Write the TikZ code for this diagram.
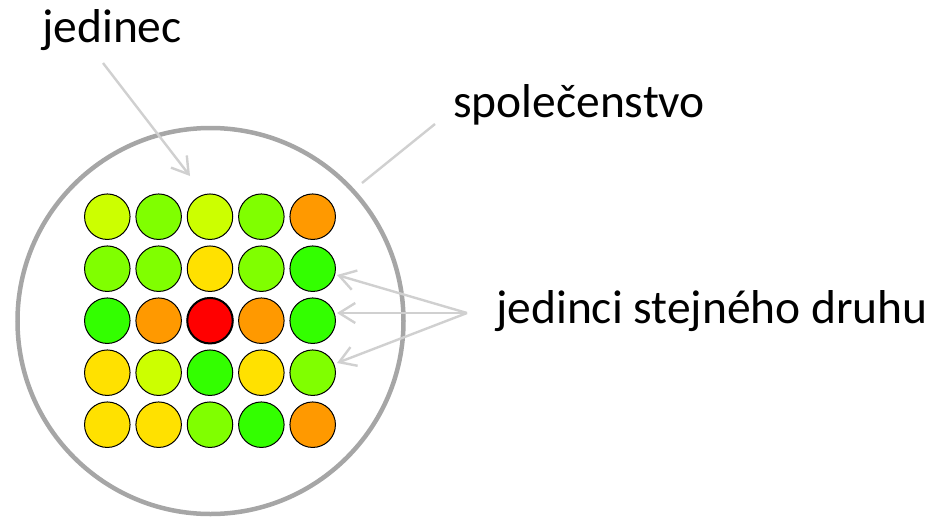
\documentclass[tikz,border=0pt]{standalone}
\usepackage{fontspec}
\setmainfont{Carlito}
\usetikzlibrary{arrows.meta}
\definecolor{cYG}{HTML}{CCFF00}
\definecolor{cLG}{HTML}{80FF00}
\definecolor{cYE}{HTML}{FFE100}
\definecolor{cOR}{HTML}{FF9900}
\definecolor{cGR}{HTML}{33FF00}
\definecolor{cRD}{HTML}{FF0000}
\definecolor{ringgray}{HTML}{A6A6A6}
\definecolor{arrgray}{HTML}{D0D0D0}
\tikzset{
  ind/.style={circle, draw=black, line width=1pt, minimum size=45.5pt, inner sep=0pt},
  lbl/.style={anchor=base west, inner sep=0pt, font=\fontsize{47.5}{57}\selectfont},
  pointer/.style={draw=arrgray, line width=2.4pt, -{Straight Barb[length=16pt,width=20pt,line width=2.4pt]}},
  plainline/.style={draw=arrgray, line width=2.4pt}
}
\begin{document}
\begin{tikzpicture}[x=1pt,y=-1pt]
\useasboundingbox (0,0) rectangle (938,520);
% community ring
\node[circle, draw=ringgray, line width=4.5pt, minimum size=386pt, inner sep=0pt] (ring) at (210.5,321) {};
% grid of individuals
\foreach \r/\cols in {1/{cYG,cLG,cYG,cLG,cOR},2/{cLG,cLG,cYE,cLG,cGR},3/{cGR,cOR,cRD,cOR,cGR},4/{cYE,cYG,cGR,cYE,cLG},5/{cYE,cYE,cLG,cGR,cOR}}{
  \foreach \c [count=\k] in \cols {
    \node[ind, fill=\c] (c\r\k) at ({107.3+51.35*(\k-1)},{216.7+52*(\r-1)}) {};
  }
}
\node[ind, fill=cRD, line width=2pt] (c33b) at (c33) {};
% labels
\node[lbl] (tj) at (42,42) {jedinec};
\node[lbl] (ts) at (453,117) {společenstvo};
\node[lbl] (td) at (496,323) {jedinci stejného druhu};
% connector endpoints
\coordinate (jstart) at (103,63);
\coordinate (jend) at (190,176);
\coordinate (sstart) at (435,124);
\coordinate (send) at (362,183);
\coordinate (dstart) at (467,313);
\coordinate (d1) at (337,275);
\coordinate (d2) at (337,313);
\coordinate (d3) at (337,363);
\draw[pointer] (jstart) -- (jend);
\draw[plainline] (sstart) -- (send);
\draw[pointer] (dstart) -- (d1);
\draw[pointer] (dstart) -- (d2);
\draw[pointer] (dstart) -- (d3);
\end{tikzpicture}
\end{document}
